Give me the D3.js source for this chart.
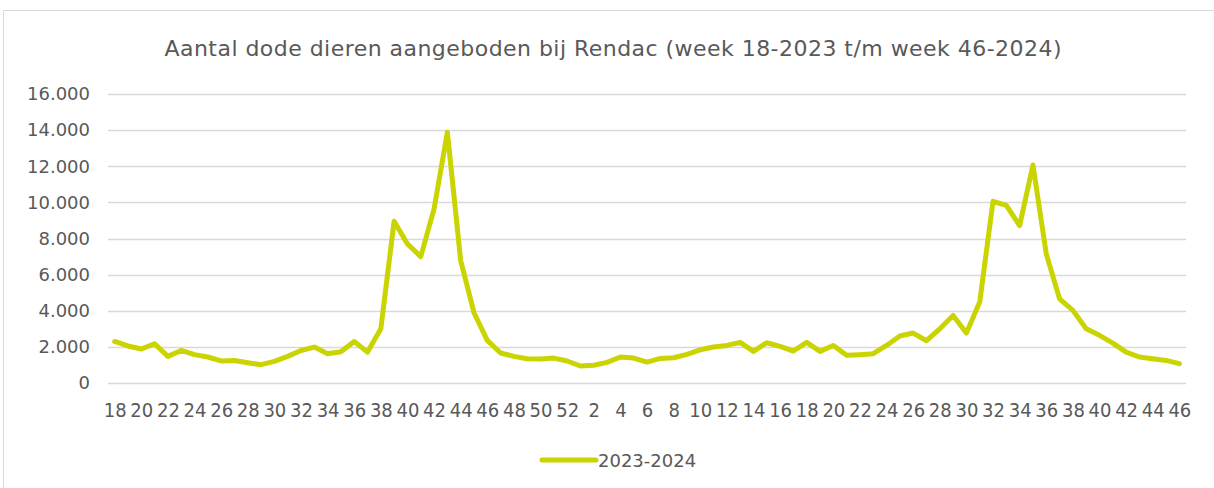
<!DOCTYPE html>
<html>
<head>
<meta charset="utf-8">
<script src="https://cdn.jsdelivr.net/npm/d3@7"></script>
<style>
  body { margin: 0; background: #fff; }
  svg { display: block; }
  text { font-family: "DejaVu Sans", sans-serif; fill: #595959; }
  .x.axis text { font-family: "Liberation Sans Narrow", "DejaVu Sans Condensed", sans-serif; }
</style>
</head>
<body>
<div id="chart"></div>
<script>
var title = "Aantal dode dieren aangeboden bij Rendac (week 18-2023 t/m week 46-2024)";
var seriesName = "2023-2024";

var weeks = [18,19,20,21,22,23,24,25,26,27,28,29,30,31,32,33,34,35,36,37,38,39,40,41,42,43,44,45,46,47,48,49,50,51,52,
             1,2,3,4,5,6,7,8,9,10,11,12,13,14,15,16,17,18,19,20,21,22,23,24,25,26,27,28,29,30,31,32,33,34,35,36,37,38,39,40,41,42,43,44,45,46];

var values = [2300,2050,1880,2175,1475,1800,1570,1440,1220,1250,1125,1015,1200,1475,1800,1990,1620,1730,2300,1710,3000,8960,7700,7000,9640,13880,6780,3890,2360,1660,1475,1345,1330,1380,1220,
              940,980,1140,1440,1380,1160,1360,1400,1585,1840,1990,2080,2250,1750,2230,2030,1770,2250,1750,2080,1530,1570,1620,2080,2600,2765,2340,3000,3740,2765,4480,10060,9830,8720,12070,7150,4660,4020,3000,2640,2210,1710,1440,1345,1250,1070];

var yTicks = [0,2000,4000,6000,8000,10000,12000,14000,16000];

var width = 1214, height = 488;
var margin = {top: 94, right: 28, bottom: 105, left: 108};

var nl = d3.formatLocale({decimal: ",", thousands: ".", grouping: [3], currency: ["€", ""]});
var fmt = nl.format(",");

var data = weeks.map(function(w, i) { return {key: i, week: w, value: values[i]}; });

var svg = d3.select("#chart").append("svg")
    .attr("width", width)
    .attr("height", height);

// chart border
svg.append("rect")
    .attr("x", 3.5).attr("y", 10.5)
    .attr("width", width + 10).attr("height", height + 10)
    .attr("fill", "none")
    .attr("stroke", "#d9d9d9");

svg.append("text")
    .attr("x", 613).attr("y", 56)
    .attr("text-anchor", "middle")
    .style("font-size", "22px")
    .attr("textLength", 897)
    .text(title);

var x = d3.scalePoint()
    .domain(d3.range(data.length))
    .range([margin.left, width - margin.right])
    .padding(0.5);

var y = d3.scaleLinear()
    .domain([0, 16000])
    .range([383, margin.top]);

// gridlines
svg.append("g")
    .selectAll("line")
    .data(yTicks)
  .enter().append("line")
    .attr("x1", margin.left).attr("x2", width - margin.right)
    .attr("y1", function(d) { return Math.round(y(d)) + 0.5; })
    .attr("y2", function(d) { return Math.round(y(d)) + 0.5; })
    .attr("stroke", "#d9d9d9")
    .attr("stroke-width", 1.3);

var yAxis = d3.axisLeft(y)
    .tickValues(yTicks)
    .tickFormat(fmt)
    .tickSize(0)
    .tickPadding(18);

svg.append("g")
    .attr("class", "y axis")
    .attr("transform", "translate(" + margin.left + ",0)")
    .call(yAxis)
    .call(function(g) { g.select(".domain").remove(); })
  .selectAll("text")
    .style("font-size", "18px")
    .attr("fill", "#595959");

var xAxis = d3.axisBottom(x)
    .tickValues(d3.range(0, data.length, 2))
    .tickFormat(function(i) { return weeks[i]; })
    .tickSize(0);

svg.append("g")
    .attr("class", "x axis")
    .attr("transform", "translate(0," + y(0) + ")")
    .call(xAxis)
    .call(function(g) { g.select(".domain").remove(); })
  .selectAll("text")
    .attr("y", 34)
    .attr("dy", 0)
    .style("font-size", "20px")
    .attr("fill", "#595959");

var line = d3.line()
    .x(function(d) { return x(d.key); })
    .y(function(d) { return y(d.value); });

svg.append("path")
    .datum(data)
    .attr("d", line)
    .attr("fill", "none")
    .attr("stroke", "#c9d400")
    .attr("stroke-width", 5)
    .attr("stroke-linejoin", "round")
    .attr("stroke-linecap", "round");

// legend
var lg = svg.append("g").attr("transform", "translate(542,460)");
lg.append("line")
    .attr("x1", 0).attr("x2", 54)
    .attr("stroke", "#c9d400")
    .attr("stroke-width", 5)
    .attr("stroke-linecap", "round");
lg.append("text")
    .attr("x", 56).attr("y", 7)
    .style("font-size", "18px")
    .text(seriesName);
</script>
</body>
</html>
